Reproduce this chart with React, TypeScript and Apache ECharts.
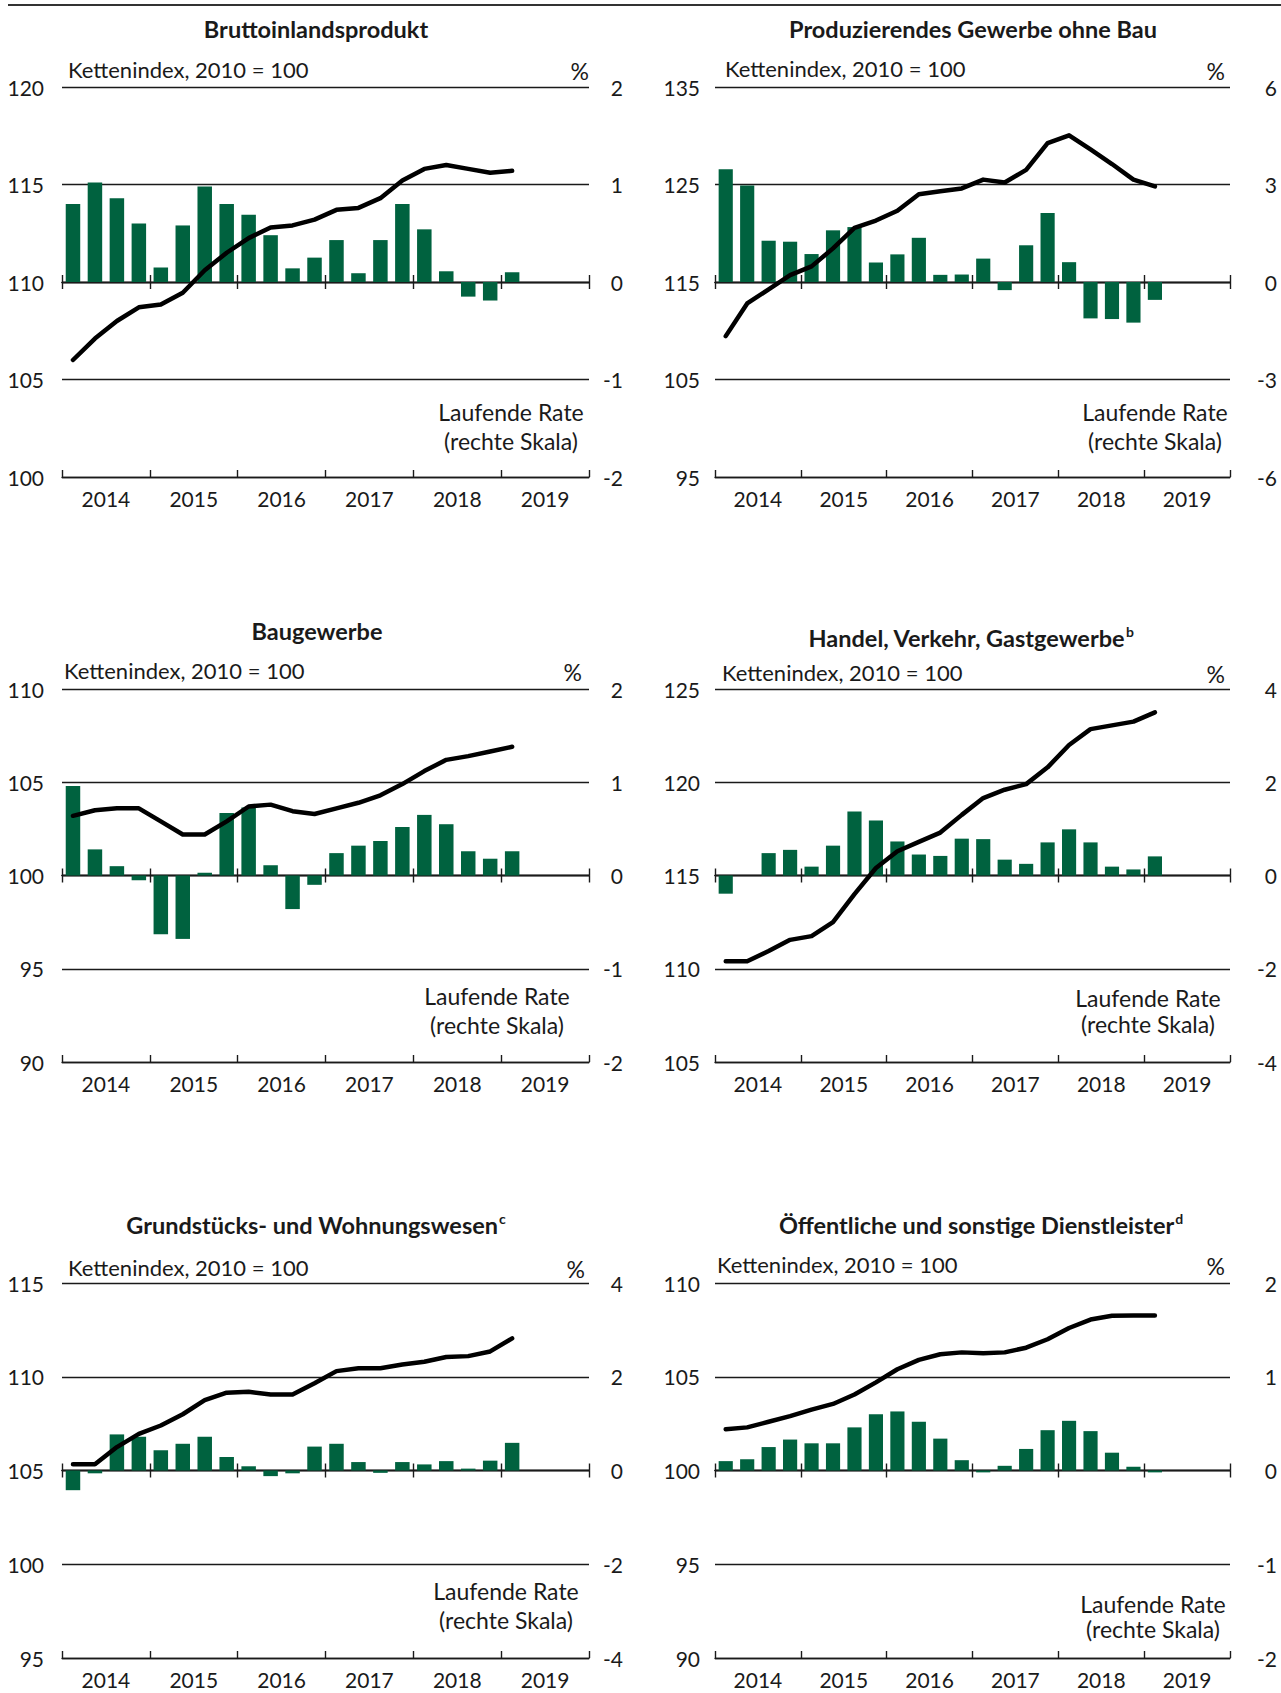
import React, { useEffect, useRef } from "react";
import * as echarts from "echarts";

// ---------- DATA ----------
const quarters = [
  "2014 Q1", "2014 Q2", "2014 Q3", "2014 Q4",
  "2015 Q1", "2015 Q2", "2015 Q3", "2015 Q4",
  "2016 Q1", "2016 Q2", "2016 Q3", "2016 Q4",
  "2017 Q1", "2017 Q2", "2017 Q3", "2017 Q4",
  "2018 Q1", "2018 Q2", "2018 Q3", "2018 Q4",
  "2019 Q1", "2019 Q2", "2019 Q3", "2019 Q4",
];
const years = ["2014", "2015", "2016", "2017", "2018", "2019"];

const bipIndex = [106.0, 107.1, 108.0, 108.7, 108.85, 109.45, 110.6, 111.5, 112.25, 112.8, 112.9, 113.2, 113.7, 113.8, 114.3, 115.2, 115.8, 116.0, 115.8, 115.6, 115.7];
const bipRate = [0.80, 1.02, 0.86, 0.60, 0.15, 0.58, 0.98, 0.80, 0.69, 0.48, 0.14, 0.25, 0.43, 0.09, 0.43, 0.80, 0.54, 0.11, -0.15, -0.19, 0.10];

const pgIndex = [109.45, 112.8, 114.25, 115.7, 116.6, 118.45, 120.55, 121.3, 122.3, 124.0, 124.3, 124.6, 125.5, 125.2, 126.5, 129.25, 130.05, 128.6, 127.1, 125.5, 124.8];
const pgRate = [3.47, 2.97, 1.27, 1.24, 0.86, 1.59, 1.69, 0.60, 0.85, 1.36, 0.22, 0.23, 0.72, -0.25, 1.13, 2.12, 0.61, -1.12, -1.14, -1.25, -0.55];

const bauIndex = [103.2, 103.5, 103.6, 103.6, 102.9, 102.2, 102.2, 102.9, 103.7, 103.8, 103.45, 103.3, 103.6, 103.9, 104.3, 104.9, 105.6, 106.2, 106.4, 106.65, 106.9];
const bauRate = [0.96, 0.28, 0.10, -0.05, -0.63, -0.68, 0.03, 0.67, 0.73, 0.11, -0.36, -0.10, 0.24, 0.32, 0.37, 0.52, 0.65, 0.55, 0.26, 0.18, 0.26];

const hvgIndex = [110.4, 110.4, 110.95, 111.55, 111.75, 112.5, 114.0, 115.4, 116.3, 116.8, 117.3, 118.25, 119.15, 119.6, 119.9, 120.8, 122.0, 122.85, 123.05, 123.25, 123.75];
const hvgRate = [-0.39, 0.0, 0.48, 0.55, 0.19, 0.64, 1.37, 1.18, 0.73, 0.45, 0.42, 0.79, 0.78, 0.34, 0.25, 0.71, 0.99, 0.71, 0.19, 0.13, 0.41];

const gwIndex = [105.33, 105.33, 106.25, 106.95, 107.4, 108.0, 108.75, 109.15, 109.2, 109.05, 109.05, 109.65, 110.3, 110.45, 110.45, 110.65, 110.8, 111.05, 111.1, 111.35, 112.05];
const gwRate = [-0.42, -0.06, 0.77, 0.72, 0.43, 0.57, 0.72, 0.29, 0.09, -0.12, -0.06, 0.51, 0.57, 0.18, -0.05, 0.18, 0.13, 0.20, 0.04, 0.21, 0.59];

const odIndex = [102.2, 102.3, 102.6, 102.9, 103.25, 103.55, 104.05, 104.7, 105.4, 105.9, 106.2, 106.3, 106.25, 106.3, 106.55, 107.0, 107.6, 108.05, 108.25, 108.27, 108.27];
const odRate = [0.10, 0.12, 0.25, 0.33, 0.29, 0.29, 0.46, 0.60, 0.63, 0.52, 0.34, 0.11, -0.02, 0.05, 0.23, 0.43, 0.53, 0.42, 0.19, 0.04, -0.02];

const leftLabel = "Kettenindex, 2010 = 100";
const rightLabel = "%";
const rateLabel1 = "Laufende Rate";
const rateLabel2 = "(rechte Skala)";

const panels = [
  { title: "Bruttoinlandsprodukt", sup: "", index: bipIndex, rate: bipRate, lScale: [100, 120, 5], rScale: [-2, 2, 1] },
  { title: "Produzierendes Gewerbe ohne Bau", sup: "", index: pgIndex, rate: pgRate, lScale: [95, 135, 10], rScale: [-6, 6, 3] },
  { title: "Baugewerbe", sup: "", index: bauIndex, rate: bauRate, lScale: [90, 110, 5], rScale: [-2, 2, 1] },
  { title: "Handel, Verkehr, Gastgewerbe", sup: "b", index: hvgIndex, rate: hvgRate, lScale: [105, 125, 5], rScale: [-4, 4, 2] },
  { title: "Grundstücks- und Wohnungswesen", sup: "c", index: gwIndex, rate: gwRate, lScale: [95, 115, 5], rScale: [-4, 4, 2] },
  { title: "Öffentliche und sonstige Dienstleister", sup: "d", index: odIndex, rate: odRate, lScale: [90, 110, 5], rScale: [-2, 2, 1] },
];

// ---------- LAYOUT ----------
const layout = [
  { x0: 62, x1: 589, y0: 87, y1: 477, tx: 316, ty: 29, kx: 68, ky: 69, px: 589, py: 71, rx: 511, ry: 412, rs: 29, lm: 18, rm: 34 },
  { x0: 715, x1: 1230, y0: 87, y1: 477, tx: 973, ty: 29, kx: 725, ky: 68, px: 1225, py: 71, rx: 1155, ry: 412, rs: 29, lm: 15, rm: 47 },
  { x0: 62, x1: 589, y0: 689, y1: 1062, tx: 317, ty: 631, kx: 64, ky: 670, px: 582, py: 672, rx: 497, ry: 996, rs: 29, lm: 18, rm: 34 },
  { x0: 715, x1: 1230, y0: 689, y1: 1062, tx: 971, ty: 638, kx: 722, ky: 672, px: 1225, py: 674, rx: 1148, ry: 998, rs: 26, lm: 15, rm: 47 },
  { x0: 62, x1: 589, y0: 1283, y1: 1658, tx: 316, ty: 1225, kx: 68, ky: 1267, px: 585, py: 1269, rx: 506, ry: 1591, rs: 29, lm: 18, rm: 34 },
  { x0: 715, x1: 1230, y0: 1283, y1: 1658, tx: 981, ty: 1225, kx: 717, ky: 1264, px: 1225, py: 1266, rx: 1153, ry: 1604, rs: 25, lm: 15, rm: 47 },
];

const FONT = "Lato";
const INK = "#1a1a1a";
const GREEN = "#00623F";
const W = 1281;
const H = 1693;

function buildOption() {
  const grid: any[] = [];
  const xAxis: any[] = [];
  const yAxis: any[] = [];
  const series: any[] = [];
  const graphic: any[] = [];

  graphic.push({
    type: "line",
    shape: { x1: 8, y1: 5, x2: W, y2: 5 },
    style: { stroke: "#333", lineWidth: 2 },
  });

  panels.forEach((p, i) => {
    const L = layout[i];
    grid.push({
      left: L.x0, top: L.y0, width: L.x1 - L.x0, height: L.y1 - L.y0,
      containLabel: false, outerBoundsMode: "none",
    });

    const lineStyle = { color: INK, width: 1.4 };
    // data axis (quarters)
    xAxis.push({
      type: "category", gridIndex: i, data: quarters, position: "bottom", boundaryGap: true,
      axisLine: { show: false, onZero: false }, axisTick: { show: false }, axisLabel: { show: false }, splitLine: { show: false },
    });
    // bottom axis with years
    xAxis.push({
      type: "category", gridIndex: i, data: years, position: "bottom", boundaryGap: true,
      axisLine: { show: true, onZero: false, lineStyle },
      axisTick: { show: true, inside: true, length: 7, lineStyle },
      axisLabel: { show: true, margin: 11, fontSize: 21, fontFamily: FONT, color: INK },
      splitLine: { show: false },
    });
    // zero line, ticks upward
    xAxis.push({
      type: "category", gridIndex: i, data: years, position: "bottom", boundaryGap: true,
      axisLine: { show: true, onZero: true, onZeroAxisIndex: 2 * i + 1, lineStyle },
      axisTick: { show: true, inside: true, length: 7, lineStyle },
      axisLabel: { show: false }, splitLine: { show: false },
    });
    // zero line, ticks downward
    xAxis.push({
      type: "category", gridIndex: i, data: years, position: "bottom", boundaryGap: true,
      axisLine: { show: true, onZero: true, onZeroAxisIndex: 2 * i + 1, lineStyle },
      axisTick: { show: true, inside: false, length: 7, lineStyle },
      axisLabel: { show: false }, splitLine: { show: false },
    });

    yAxis.push({
      type: "value", gridIndex: i, position: "left",
      min: p.lScale[0], max: p.lScale[1], interval: p.lScale[2],
      axisLine: { show: false }, axisTick: { show: false },
      axisLabel: { margin: L.lm, fontSize: 21, fontFamily: FONT, color: INK },
      splitLine: { show: true, lineStyle: { color: INK, width: 1.3 } },
    });
    yAxis.push({
      type: "value", gridIndex: i, position: "right",
      min: p.rScale[0], max: p.rScale[1], interval: p.rScale[2],
      axisLine: { show: false }, axisTick: { show: false },
      axisLabel: { margin: L.rm, align: "right", fontSize: 21, fontFamily: FONT, color: INK },
      splitLine: { show: false },
    });

    series.push({
      type: "bar", name: p.title + " Rate", xAxisIndex: 4 * i, yAxisIndex: 2 * i + 1,
      data: p.rate, barWidth: "66%", itemStyle: { color: GREEN }, z: 2,
    });
    series.push({
      type: "line", name: p.title + " Index", xAxisIndex: 4 * i, yAxisIndex: 2 * i,
      data: p.index, symbol: "none", smooth: false,
      lineStyle: { color: "#000", width: 4.5, join: "round", cap: "round" }, z: 4,
    });

    graphic.push({
      type: "text", x: L.tx, y: L.ty,
      style: {
        text: p.sup ? `{t|${p.title}}{s|${p.sup}}` : `{t|${p.title}}`,
        align: "center", verticalAlign: "middle",
        rich: {
          t: { fontSize: 23.5, fontWeight: "bold", fontFamily: FONT, fill: INK, color: INK, lineHeight: 28 },
          s: { fontSize: 14, fontWeight: "bold", fontFamily: FONT, fill: INK, color: INK, verticalAlign: "top", lineHeight: 16, padding: [0, 0, 0, 1] },
        },
      },
    });
    graphic.push({
      type: "text", x: L.kx, y: L.ky,
      style: { text: leftLabel, fontSize: 22, fontFamily: FONT, fill: INK, align: "left", verticalAlign: "middle" },
    });
    graphic.push({
      type: "text", x: L.px, y: L.py,
      style: { text: rightLabel, fontSize: 23, fontFamily: FONT, fill: INK, align: "right", verticalAlign: "middle" },
    });
    graphic.push({
      type: "text", x: L.rx, y: L.ry,
      style: { text: rateLabel1, fontSize: 23, fontFamily: FONT, fill: INK, align: "center", verticalAlign: "middle" },
    });
    graphic.push({
      type: "text", x: L.rx, y: L.ry + L.rs,
      style: { text: rateLabel2, fontSize: 23, fontFamily: FONT, fill: INK, align: "center", verticalAlign: "middle" },
    });
  });

  return {
    animation: false,
    backgroundColor: "#ffffff",
    textStyle: { fontFamily: FONT },
    grid, xAxis, yAxis, series, graphic,
  };
}

export default function App() {
  const ref = useRef<HTMLDivElement>(null);
  useEffect(() => {
    document.body.style.margin = "0";
    if (!ref.current) return;
    const chart = echarts.init(ref.current, null, { renderer: "svg", width: W, height: H });
    chart.setOption(buildOption() as any);
    return () => chart.dispose();
  }, []);
  return <div ref={ref} style={{ width: W, height: H }} />;
}
